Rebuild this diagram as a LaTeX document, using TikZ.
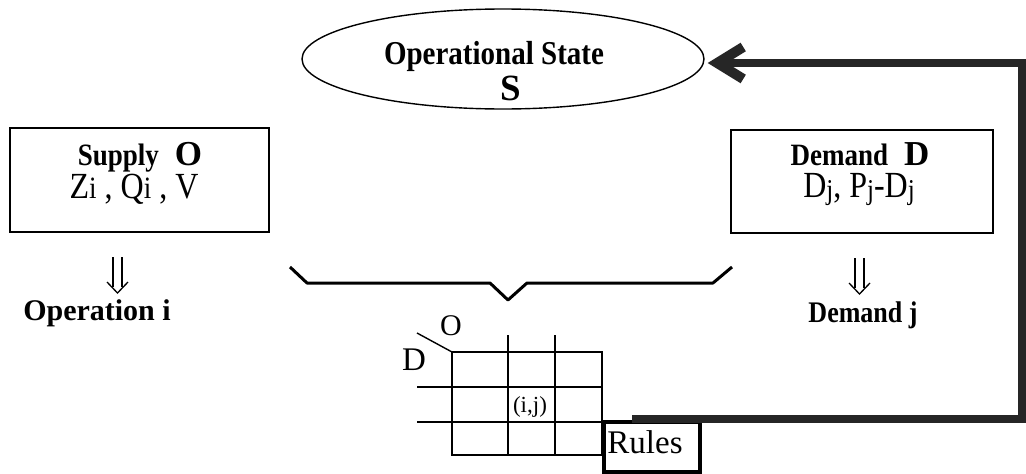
\documentclass[tikz,border=0pt]{standalone}
\usepackage{fontspec}
\setmainfont{Liberation Serif}
\usetikzlibrary{shapes.geometric,arrows.meta,calc}
\newcommand\fs[1]{\fontsize{#1}{#1}\selectfont}
% slightly taller lettering
\newcommand\tallt[1]{\scalebox{1}[1.15]{#1}}
% smaller, slightly lowered index letters
\newcommand\idxi[1]{{\fs{27}#1}}
\newcommand\idxj[1]{\raisebox{-2.5pt}{\fs{25}#1}}

\begin{document}
\begin{tikzpicture}[x=1pt,y=-1pt,
  box/.style={draw, line width=1.4pt, inner sep=0pt},
  lbl/.style={inner sep=0pt, anchor=base},
  gridline/.style={line width=1.4pt},
  feedback/.style={line width=8pt, black!85,
    -{Straight Barb[length=26pt,width=32pt,line width=10pt]}},
  dblarrow/.pic={
    \draw[line width=1.3pt] (-4.5,-18) -- (-4.5,12) (4.5,-18) -- (4.5,12);
    \draw[line width=1.3pt] (-10.5,7) -- (0,18) -- (10.5,7);
  }]
\useasboundingbox (0,0) rectangle (1026,474);

% operational state
\node[draw, ellipse, line width=1.4pt, minimum width=402pt, minimum height=100pt,
      inner sep=0pt] (state) at (503,59) {};
\node[lbl, font=\bfseries\fs{29}] (statetitle) at (494,64) {\tallt{Operational State}};
\node[lbl, font=\bfseries\fs{37}] (statesym) at (511,100) {S};

% supply side
\node[box, minimum width=259pt, minimum height=104pt] (supply) at (139.5,180) {};
\node[lbl] (supplytitle) at (140,165)
  {\tallt{\bfseries\fs{27}Supply}\hspace{16pt}{\bfseries\fs{35}O}};
\node[lbl, font=\fs{32}] (supplyvars) at (134,198) {\tallt{Z\idxi{i} , Q\idxi{i} , V}};
\pic (supplyarrow) at (117.5,275) {dblarrow};
\node[lbl, font=\bfseries\fs{30}] (opi) at (97,320) {Operation i};

% demand side
\node[box, minimum width=262pt, minimum height=103pt] (demand) at (862,181.5) {};
\node[lbl] (demandtitle) at (860,165)
  {\tallt{\bfseries\fs{27}Demand}\hspace{16pt}{\bfseries\fs{35}D}};
\node[lbl, font=\fs{32}] (demandvars) at (859,197) {\tallt{D\idxj{j}, P\idxj{j}-D\idxj{j}}};
\pic (demandarrow) at (859.5,276) {dblarrow};
\node[lbl, font=\bfseries\fs{26}] (demj) at (863,322) {\tallt{Demand j}};

% brace
\draw[line width=3pt, line join=round]
  (290,267) -- (307,283) -- (490,283) -- (508,300) -- (527,283) -- (713,283) -- (732,267);

% O x D matrix
\draw[gridline] (452,352) rectangle (602,455);
\draw[gridline] (508,335) -- (508,455) (555,335) -- (555,455);
\draw[gridline] (417,387) -- (602,387) (417,422) -- (602,422);
\draw[gridline] (417,333) -- (452,352);
\node[lbl, font=\fs{30}] (gridO) at (451,335) {O};
\node[lbl, font=\fs{33}] (gridD) at (414,370) {D};
\node[lbl, font=\fs{23}] (cell) at (530,412) {(i,j)};

% rules and feedback loop
\node[draw, line width=3.5pt, minimum width=96pt, minimum height=50pt,
      inner sep=0pt] (rules) at (652,447) {};
\node[lbl, font=\fs{33}] (rulestext) at (645,453) {Rules};
\coordinate (fbstart) at (632,419);
\coordinate (fbcorner) at (1022,63);
\draw[feedback] (fbstart) -| (fbcorner) -- ([xshift=3pt]state.east |- fbcorner);
\end{tikzpicture}
\end{document}
